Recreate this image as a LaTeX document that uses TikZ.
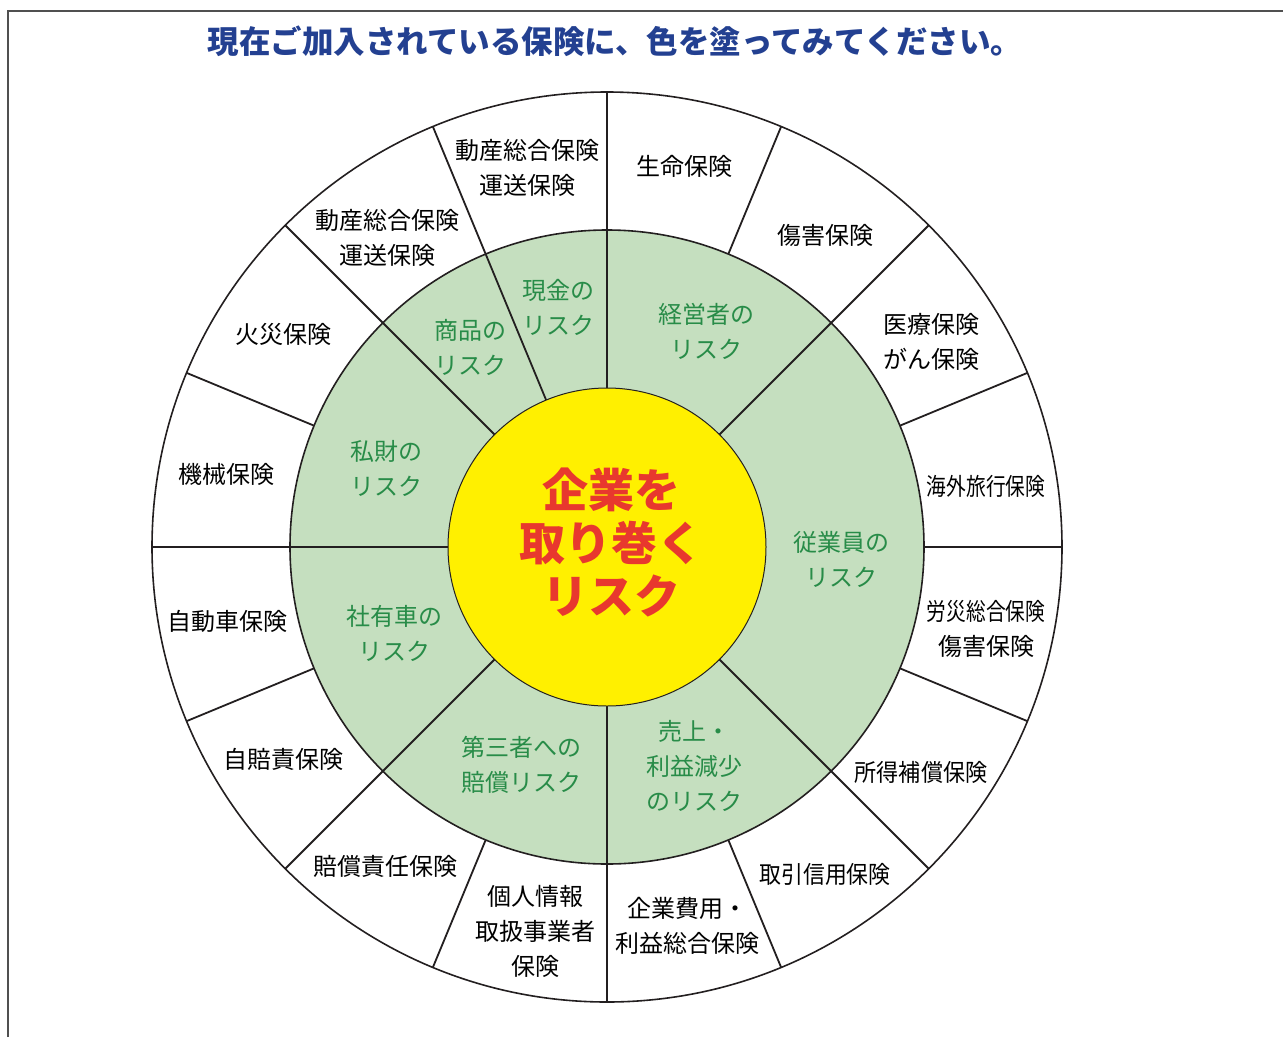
\documentclass[tikz,border=0pt]{standalone}
\usepackage{fontspec}
\newfontfamily\jp{Noto Sans CJK JP}
\usetikzlibrary{calc}
\definecolor{titleblue}{RGB}{35,64,145}
\definecolor{riskred}{RGB}{232,56,46}
\definecolor{riskgreen}{RGB}{40,140,72}
\definecolor{ringgreen}{RGB}{197,223,191}
\definecolor{hubyellow}{RGB}{255,240,0}
\definecolor{linegray}{RGB}{35,31,32}
\definecolor{framegray}{RGB}{80,80,80}
\begin{document}
\begin{tikzpicture}[x=1pt,y=-1pt,
  ins/.style={font=\jp\fontsize{24}{35}\selectfont, align=center, text=black, inner sep=0pt},
  risk/.style={font=\jp\fontsize{24}{35}\selectfont, align=center, text=riskgreen, inner sep=0pt},
  sep/.style={draw=linegray, line width=1.8pt},
  ring/.style={draw=linegray, line width=1.6pt}]
\useasboundingbox (0,0) rectangle (1283,1037);
% frame
\coordinate (fa) at (8,1037);
\coordinate (fb) at (8,10.5);
\coordinate (fc) at (1283,10.5);
\draw[framegray, line width=2pt] (fa) -- (fb) -- (fc);
% title
\node[font=\jp\bfseries\fontsize{31.5}{36}\selectfont, text=titleblue, inner sep=0pt] (title) at (615,41) {現在ご加入されている保険に、色を塗ってみてください。};
% wheel
\coordinate (c) at (607,547);
\draw[ring, fill=white] (c) circle[radius=455pt];
\draw[ring, fill=ringgreen] (c) circle[radius=317pt];
\foreach \a in {0,22.5,...,337.5}{
  \draw[sep, shift={(c)}] (-\a:317) -- (-\a:455);
}
\foreach \a in {45,90,112.5,135,180,225,270,315}{
  \draw[sep, shift={(c)}] (-\a:150) -- (-\a:317);
}
\draw[draw=linegray, line width=1pt, fill=hubyellow] (c) circle[radius=159pt];
% centre text
\node[font=\jp\bfseries\fontsize{46}{53}\selectfont, text=riskred, align=center, inner sep=0pt] (hub) at (611,542) {企業を\\取り巻く\\リスク};
% risk labels
\node[risk] (r1) at (558,307) {現金の\\リスク};
\node[risk] (r2) at (470,347) {商品の\\リスク};
\node[risk] (r3) at (706,331) {経営者の\\リスク};
\node[risk] (r4) at (386,468) {私財の\\リスク};
\node[risk] (r5) at (841,559) {従業員の\\リスク};
\node[risk] (r6) at (394,633) {社有車の\\リスク};
\node[risk] (r7) at (521,765) {第三者への\\賠償リスク};
\node[risk] (r8) at (694,766) {売上・\\利益減少\\のリスク};
% insurance labels
\node[ins] (i1) at (684,166) {生命保険};
\node[ins] (i2) at (825,235) {傷害保険};
\node[ins] (i3) at (931,342) {医療保険\\がん保険};
\node[ins] (i4) at (986,486) {\scalebox{0.82}[1]{海外旅行保険}};
\node[ins] (i5) at (986,629) {\scalebox{0.82}[1]{労災総合保険}\\傷害保険};
\node[ins] (i6) at (921,772) {\scalebox{0.92}[1]{所得補償保険}};
\node[ins] (i7) at (825,874) {\scalebox{0.91}[1]{取引信用保険}};
\node[ins] (i8) at (687,926) {企業費用・\\利益総合保険};
\node[ins] (i9) at (535,931) {個人情報\\取扱事業者\\保険};
\node[ins] (i10) at (385,866) {賠償責任保険};
\node[ins] (i11) at (283,759) {自賠責保険};
\node[ins] (i12) at (227,621) {自動車保険};
\node[ins] (i13) at (226,474) {機械保険};
\node[ins] (i14) at (283,334) {火災保険};
\node[ins] (i15) at (387,238) {動産総合保険\\運送保険};
\node[ins] (i16) at (527,168) {動産総合保険\\運送保険};
\end{tikzpicture}
\end{document}
